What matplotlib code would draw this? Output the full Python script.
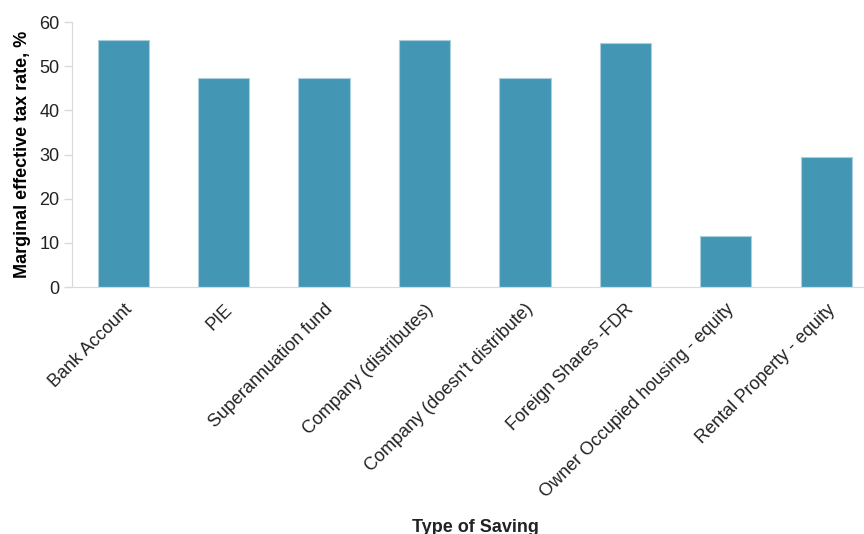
import matplotlib
matplotlib.use("Agg")
import matplotlib.pyplot as plt
import matplotlib.transforms as mtransforms

categories = ["Bank Account", "PIE", "Superannuation fund", "Company (distributes)",
              "Company (doesn't distribute)", "Foreign Shares -FDR",
              "Owner Occupied housing - equity", "Rental Property - equity"]
values = [56.0, 47.3, 47.3, 56.0, 47.3, 55.3, 11.5, 29.5]
yticks = [0, 10, 20, 30, 40, 50, 60]

plt.rcParams['font.family'] = ['Liberation Sans', 'DejaVu Sans']

fig = plt.figure(figsize=(8.64, 5.34), dpi=100)
ax = fig.add_axes([0.0833, 0.4625, 0.9167, 0.4963])
x = list(range(len(categories)))
ax.bar(x, values, width=0.51, color='#4397b5', edgecolor='#a9cfdd', linewidth=0.8)
ax.set_xlim(-0.51, 7.376)
ax.set_ylim(0, 60)
ax.set_yticks(yticks)
ax.set_yticklabels([str(v) for v in yticks], fontsize=13, color='#222222')
ax.set_xticks(x)
ax.set_xticklabels(categories, rotation=45, ha='right', va='top',
                   rotation_mode='anchor', fontsize=13, color='#222222')
offset = mtransforms.ScaledTranslation(7/100, 0, fig.dpi_scale_trans)
for lab in ax.get_xticklabels():
    lab.set_transform(lab.get_transform() + offset)
ax.tick_params(axis='x', length=0, pad=10)
ax.tick_params(axis='y', length=6, color='#d9d9d9', width=1, pad=3)
for s in ['top', 'right']:
    ax.spines[s].set_visible(False)
ax.spines['left'].set_color('#d9d9d9')
ax.spines['bottom'].set_color('#d9d9d9')
ax.set_ylabel("Marginal effective tax rate, %", fontsize=13, fontweight='bold', labelpad=6)
fig.text(0.55, 527/534 * 0 + 0.013, "Type of Saving", ha='center', va='center', fontsize=13,
         fontweight='bold', color='#222222')
fig.savefig("out.png", dpi=100)
